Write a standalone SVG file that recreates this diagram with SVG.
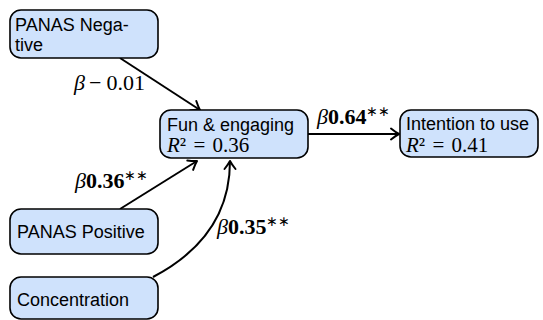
<svg xmlns="http://www.w3.org/2000/svg" width="543" height="320" viewBox="0 0 543 320">
<style>
.box{fill:#cfe2fc;stroke:#000;stroke-width:1.6}
.t{font-family:"Liberation Sans",Arial,sans-serif;font-size:18px;fill:#000}
.m{font-family:"Liberation Serif","Times New Roman",serif;font-size:22px;fill:#000}
.mb{font-family:"Liberation Serif","Times New Roman",serif;font-size:21px;fill:#000}
.mi{font-style:italic}
.b{font-weight:bold}
.sup{font-size:14px}
.e{fill:none;stroke:#000;stroke-width:2}
</style>
<defs>
<marker id="arr" markerUnits="userSpaceOnUse" markerWidth="16" markerHeight="16" viewBox="-10 -8 12 16" refX="0" refY="0" orient="auto">
<path d="M-8,-5.5 Q-3,-1.5 0,0 Q-3,1.5 -8,5.5" fill="none" stroke="#000" stroke-width="2" stroke-linecap="round" stroke-linejoin="round"/>
</marker>
</defs>
<g id="connectors">
<path class="e" d="M120,58 L200,110" marker-end="url(#arr)"/>
<path class="e" d="M120,209 L197,161" marker-end="url(#arr)"/>
<path class="e" d="M153,277 C195,255 230,220 230,161" marker-end="url(#arr)"/>
<path class="e" d="M308,134 L399,134" marker-end="url(#arr)"/>
<text class="m" x="74" y="90"><tspan class="mi">β</tspan><tspan dx="4">−</tspan><tspan dx="5">0.01</tspan></text>
<text class="m" x="317" y="124"><tspan class="mi">β</tspan><tspan class="b">0.64</tspan><tspan class="sup" dy="-8">∗∗</tspan></text>
<text class="m" x="75" y="188"><tspan class="mi">β</tspan><tspan class="b">0.36</tspan><tspan class="sup" dy="-8">∗∗</tspan></text>
<text class="m" x="217" y="234"><tspan class="mi">β</tspan><tspan class="b">0.35</tspan><tspan class="sup" dy="-8">∗∗</tspan></text>
</g>
<g id="panas-negative">
<rect class="box" x="10" y="10" width="148" height="48" rx="11"/>
<text class="t" x="15" y="31">PANAS Nega-</text>
<text class="t" x="15" y="51">tive</text>
</g>
<g id="fun-engaging">
<rect class="box" x="160" y="110" width="148" height="48" rx="11"/>
<text class="t" x="167" y="131">Fun &amp; engaging</text>
<text class="mb" x="167" y="152"><tspan class="mi">R</tspan>² <tspan dx="2">=</tspan> <tspan dx="2">0.36</tspan></text>
</g>
<g id="intention">
<rect class="box" x="400" y="110" width="138" height="47" rx="11"/>
<text class="t" x="406" y="130">Intention to use</text>
<text class="mb" x="406" y="152"><tspan class="mi">R</tspan>² <tspan dx="2">=</tspan> <tspan dx="2">0.41</tspan></text>
</g>
<g id="panas-positive">
<rect class="box" x="10" y="209" width="148" height="45" rx="11"/>
<text class="t" x="17" y="238">PANAS Positive</text>
</g>
<g id="concentration">
<rect class="box" x="10" y="277" width="148" height="42" rx="11"/>
<text class="t" x="17" y="306">Concentration</text>
</g>
</svg>
